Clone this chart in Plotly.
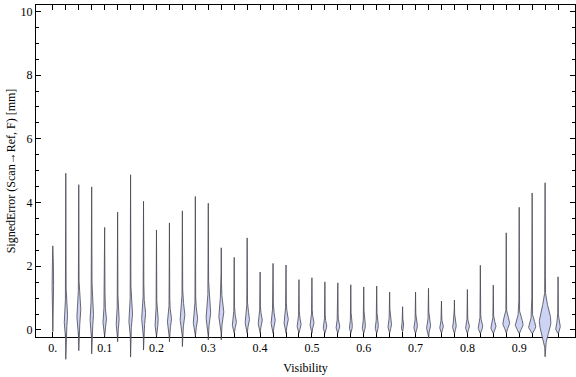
import numpy as np
import plotly.graph_objects as go

# ---- data ----
visibility = [0.000, 0.025, 0.050, 0.075, 0.100, 0.125, 0.150, 0.175, 0.200, 0.225,
              0.250, 0.275, 0.300, 0.325, 0.350, 0.375, 0.400, 0.425, 0.450, 0.475,
              0.500, 0.525, 0.550, 0.575, 0.600, 0.625, 0.650, 0.675, 0.700, 0.725,
              0.750, 0.775, 0.800, 0.825, 0.850, 0.875, 0.900, 0.925, 0.950, 0.975]
err_max = [2.64, 4.92, 4.56, 4.49, 3.22, 3.70, 4.87, 4.04, 3.14, 3.36,
           3.74, 4.19, 3.98, 2.58, 2.28, 2.89, 1.82, 2.09, 2.04, 1.58,
           1.64, 1.51, 1.48, 1.42, 1.35, 1.38, 1.19, 0.73, 1.19, 1.31,
           0.91, 0.94, 1.27, 2.03, 1.41, 3.05, 3.85, 4.30, 4.62, 1.67]
err_min = [-0.05, -0.92, -0.65, -0.75, -0.20, -0.37, -0.85, -0.63, -0.20, -0.37,
           -0.52, -0.20, -0.31, -0.31, -0.10, -0.10, -0.10, -0.10, -0.10, -0.10,
           -0.10, -0.10, -0.10, -0.10, -0.10, -0.10, -0.10, -0.05, -0.10, -0.26,
           -0.10, -0.10, -0.10, -0.10, -0.10, -0.10, -0.10, -0.10, -0.84, -0.10]
err_mode = [1.70, 0.38, 0.55, 0.42, 0.31, 0.26, 0.42, 0.47, 0.26, 0.31,
            0.42, 0.31, 0.47, 0.50, 0.22, 0.31, 0.27, 0.27, 0.30, 0.16,
            0.20, 0.10, 0.10, 0.10, 0.10, 0.10, 0.13, 0.10, 0.10, 0.10,
            0.10, 0.10, 0.10, 0.10, 0.10, 0.20, 0.16, 0.10, 0.26, 0.05]
# relative density peak (drawn half-width)
density_peak = [0.9, 1.8, 2.1, 1.8, 1.8, 1.6, 2.0, 2.1, 1.8, 2.1,
                2.5, 2.3, 2.4, 2.6, 2.2, 2.3, 2.2, 2.2, 2.3, 2.1,
                2.1, 1.9, 1.9, 1.6, 1.7, 1.7, 1.9, 1.4, 1.9, 2.1,
                1.9, 1.9, 2.1, 2.4, 2.7, 3.4, 3.9, 3.6, 5.8, 2.4]
spread_up = [0.40, 0.32, 0.38, 0.32, 0.28, 0.28, 0.32, 0.32, 0.25, 0.25,
             0.35, 0.30, 0.35, 0.35, 0.20, 0.25, 0.20, 0.22, 0.22, 0.17,
             0.17, 0.15, 0.15, 0.13, 0.13, 0.13, 0.15, 0.10, 0.13, 0.15,
             0.12, 0.12, 0.13, 0.15, 0.15, 0.20, 0.20, 0.18, 0.40, 0.15]
spread_down = [0.50, 0.25, 0.30, 0.25, 0.18, 0.18, 0.25, 0.25, 0.18, 0.18,
               0.22, 0.18, 0.22, 0.22, 0.12, 0.15, 0.13, 0.13, 0.14, 0.10,
               0.10, 0.08, 0.08, 0.08, 0.08, 0.08, 0.08, 0.07, 0.08, 0.10,
               0.08, 0.08, 0.08, 0.09, 0.09, 0.12, 0.12, 0.10, 0.35, 0.08]
tick_text = {0.0: "0.", 0.1: "0.1", 0.2: "0.2", 0.3: "0.3", 0.4: "0.4",
             0.5: "0.5", 0.6: "0.6", 0.7: "0.7", 0.8: "0.8", 0.9: "0.9"}

# ---- layout geometry ----
W_PX, H_PX = 576, 377
M_L, M_R, M_T, M_B = 36, 1, 5, 16
X_RANGE = [-0.0325, 1.0077]
Y_RANGE = [-0.22, 10.2]
AXIS_BOTTOM_PX = 337  # y pixel of the framed x-axis line
plot_w = W_PX - M_L - M_R
plot_h = H_PX - M_T - M_B
px_per_x = plot_w / (X_RANGE[1] - X_RANGE[0])
frame_h = AXIS_BOTTOM_PX - M_T
px_per_y = frame_h / (Y_RANGE[1] - Y_RANGE[0])
y2_low = Y_RANGE[1] - plot_h / px_per_y
frame_dom_low = (H_PX - M_B - AXIS_BOTTOM_PX) / plot_h

FILL = "rgb(204,211,244)"
EDGE = "rgb(70,70,82)"

fig = go.Figure()
fig.add_trace(go.Scatter(x=[None], y=[None], showlegend=False, hoverinfo="skip"))

for i, pos in enumerate(visibility):
    lo, hi, c = err_min[i], err_max[i], err_mode[i]
    ys = np.unique(np.concatenate([np.linspace(lo, hi, 220),
                                   np.linspace(max(lo, c - 1.5), min(hi, c + 1.5), 120)]))
    s = np.where(ys >= c, spread_up[i], spread_down[i])
    g = density_peak[i] * np.exp(-0.5 * ((ys - c) / s) ** 2)
    tail = np.where(ys >= c, (hi - ys) / max(hi - c, 1e-6), (ys - lo) / max(c - lo, 1e-6))
    tail = 0.45 * np.clip(tail, 0, 1)
    w = np.maximum(g, tail) / px_per_x
    xs = np.concatenate([pos + w, (pos - w)[::-1]])
    yy = np.concatenate([ys, ys[::-1]])
    fig.add_trace(go.Scatter(x=xs, y=yy, mode="lines", fill="toself",
                             fillcolor=FILL, line=dict(color=EDGE, width=0.8),
                             xaxis="x2", yaxis="y2", showlegend=False,
                             hoverinfo="skip"))

font = dict(family="Liberation Serif, Times New Roman, serif", size=12, color="black")
ticktext = [tick_text.get(round(v, 3), "") for v in visibility]

fig.update_layout(
    width=W_PX, height=H_PX,
    margin=dict(l=M_L, r=M_R, t=M_T, b=M_B, pad=0),
    paper_bgcolor="white", plot_bgcolor="rgba(0,0,0,0)",
    font=font, showlegend=False,
    xaxis=dict(range=X_RANGE, domain=[0, 1], anchor="y",
               tickmode="array", tickvals=visibility, ticktext=ticktext,
               ticks="inside", ticklen=5, tickcolor="black", tickwidth=1,
               showline=True, linecolor="black", linewidth=1, mirror="ticks",
               showgrid=False, zeroline=False, automargin=False,
               tickfont=font,
               title=dict(text="Visibility", font=font, standoff=9)),
    yaxis=dict(range=Y_RANGE, domain=[frame_dom_low, 1], anchor="x",
               tickmode="array", tickvals=[0, 2, 4, 6, 8, 10],
               ticktext=["0", "2", "4", "6", "8", "10"],
               ticks="inside", ticklen=5, tickcolor="black", tickwidth=1,
               minor=dict(ticks="inside", ticklen=3, dtick=0.5, tick0=0,
                          tickcolor="black", showgrid=False),
               showline=True, linecolor="black", linewidth=1, mirror="ticks",
               showgrid=False, zeroline=False, automargin=False,
               tickfont=font,
               title=dict(text="SignedError (Scan→Ref, F) [mm]", font=font, standoff=2)),
    xaxis2=dict(range=X_RANGE, domain=[0, 1], anchor="y2", visible=False,
                fixedrange=True),
    yaxis2=dict(range=[y2_low, Y_RANGE[1]], domain=[0, 1], anchor="x2",
                visible=False, fixedrange=True),
)

fig.write_html("out.html", config={"displayModeBar": False, "staticPlot": True},
               post_script="document.body.style.margin='0';document.body.style.overflow='hidden';")
